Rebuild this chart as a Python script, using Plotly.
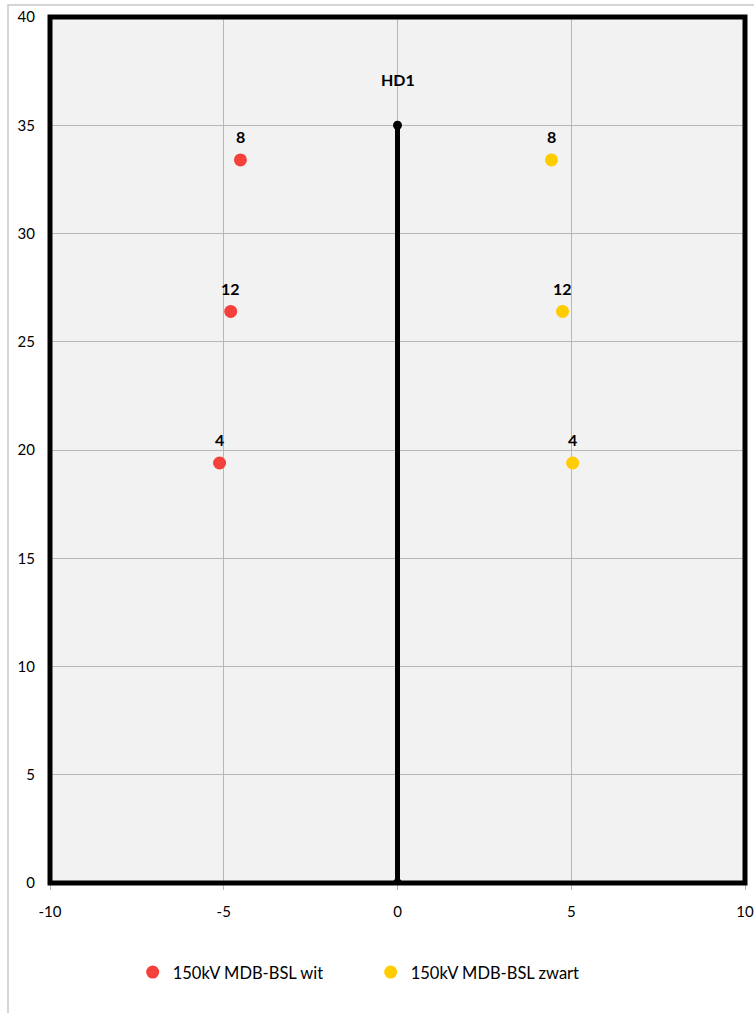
import plotly.graph_objects as go

# Conductor positions (horizontal offset in m, height in m) and labels
wit_x = [-4.52, -4.80, -5.12]
wit_y = [33.4, 26.4, 19.4]
wit_labels = ["8", "12", "4"]

zwart_x = [4.43, 4.75, 5.04]
zwart_y = [33.4, 26.4, 19.4]
zwart_labels = ["8", "12", "4"]

mast_x = [0, 0]
mast_y = [0, 35]
mast_label = "HD1"

x_ticks = [-10, -5, 0, 5, 10]
x_tick_text = ["-10", "-5", "0", "5", "10"]
y_ticks = [0, 5, 10, 15, 20, 25, 30, 35, 40]

FONT = "Lato"
RED = "#f5413b"
YELLOW = "#ffcc00"

fig = go.Figure()

fig.add_trace(go.Scatter(
    x=mast_x, y=mast_y, mode="lines+markers",
    line=dict(color="black", width=5),
    marker=dict(color="black", size=9),
    showlegend=False, hoverinfo="skip",
))
fig.add_trace(go.Scatter(
    x=wit_x, y=wit_y, mode="markers", name="150kV MDB-BSL wit",
    marker=dict(color=RED, size=13),
))
fig.add_trace(go.Scatter(
    x=zwart_x, y=zwart_y, mode="markers", name="150kV MDB-BSL zwart",
    marker=dict(color=YELLOW, size=13),
))

annotations = []
for xs, ys, labs in ((wit_x, wit_y, wit_labels), (zwart_x, zwart_y, zwart_labels)):
    for xv, yv, lab in zip(xs, ys, labs):
        annotations.append(dict(
            x=xv, y=yv, text=f"<b>{lab}</b>", showarrow=False, yshift=23,
            font=dict(family=FONT, size=16, color="black"),
        ))
annotations.append(dict(
    x=mast_x[-1], y=mast_y[-1], text=f"<b>{mast_label}</b>", showarrow=False,
    yshift=46, font=dict(family=FONT, size=16, color="black"),
))

shapes = [
    # outer chart-area border
    dict(type="rect", xref="paper", yref="paper",
         x0=(8 - 50) / 695, x1=1.2, y0=-0.5, y1=(883 - 5) / 866,
         line=dict(color="#c8c8c8", width=1.5), layer="below"),
    # thick plot frame
    dict(type="rect", xref="paper", yref="paper", x0=0, x1=1, y0=0, y1=1,
         line=dict(color="black", width=5), layer="above"),
]

fig.update_layout(
    width=754, height=1013,
    margin=dict(l=50, r=9, t=17, b=130, autoexpand=False),
    paper_bgcolor="white",
    plot_bgcolor="#f2f2f2",
    font=dict(family=FONT, size=15, color="black"),
    annotations=annotations,
    shapes=shapes,
    showlegend=True,
    legend=dict(
        orientation="h", x=0.119, xanchor="left", y=-0.083, yanchor="top",
        font=dict(family=FONT, size=16.5, color="black"),
        bgcolor="rgba(0,0,0,0)", entrywidth=193, itemwidth=30,
    ),
)
fig.update_xaxes(
    range=[-10, 10], tickvals=x_ticks, ticktext=x_tick_text, showgrid=True,
    gridcolor="#b8b8b8", gridwidth=1, zeroline=False, ticks="outside",
    ticklen=6, tickcolor="#b8b8b8", ticklabelstandoff=9, automargin=False,
    tickfont=dict(family=FONT, size=15),
)
fig.update_yaxes(
    range=[0, 40], tickvals=y_ticks, showgrid=True, gridcolor="#b8b8b8",
    gridwidth=1, zeroline=False, ticklabelstandoff=14, automargin=False,
    tickfont=dict(family=FONT, size=15),
)

fig.write_html("out.html")
